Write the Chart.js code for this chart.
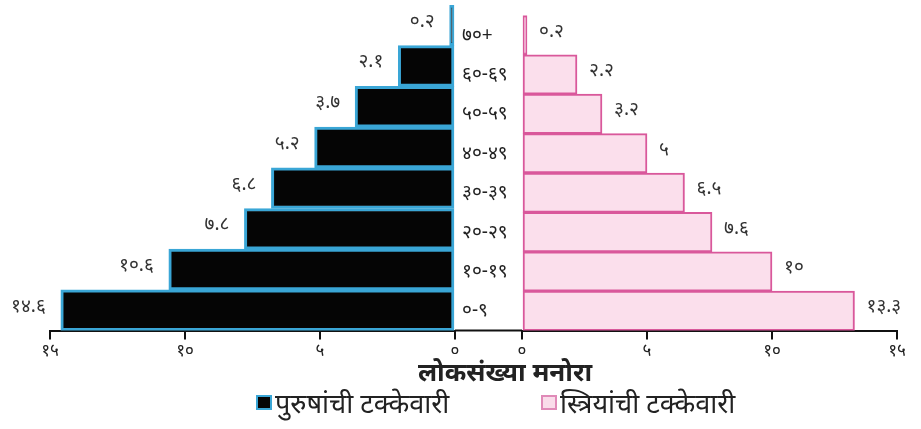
<!DOCTYPE html>
<html>
<head>
<meta charset="utf-8">
<script src="https://cdn.jsdelivr.net/npm/chart.js@4.4.1/dist/chart.umd.min.js"></script>
<style>
    body { margin: 0; background: #fff; width: 921px; height: 429px; overflow: hidden; position: relative; font-family: "Noto Sans", "DejaVu Sans", sans-serif; }
    #leftBox { position: absolute; left: 0; top: 0; width: 460px; height: 366px; }
    #rightBox { position: absolute; left: 455px; top: 0; width: 466px; height: 366px; }
    #title { position: absolute; left: 355px; top: 353px; width: 300px; text-align: center; font-size: 26px; font-weight: bold; color: #222; }
    .legend { position: absolute; top: 384px; font-size: 27px; color: #222; display: flex; align-items: center; }
    .legend span.box { display: inline-block; width: 12px; height: 11px; margin-right: 3px; }
</style>
</head>
<body>
<div id="leftBox"><canvas id="maleChart"></canvas></div>
<div id="rightBox"><canvas id="femaleChart"></canvas></div>
<div id="title">लोकसंख्या मनोरा</div>
<div class="legend" style="left:256px"><span class="box" style="background:#050505;border:2px solid #3aa6d6"></span>पुरुषांची टक्केवारी</div>
<div class="legend" style="left:541px"><span class="box" style="background:#fadcea;border:2px solid #e08ab8"></span>स्त्रियांची टक्केवारी</div>
<script>
const ageGroups = ["७०+", "६०-६९", "५०-५९", "४०-४९", "३०-३९", "२०-२९", "१०-१९", "०-९"];
const maleValues = [0.2, 2.1, 3.7, 5.2, 6.8, 7.8, 10.6, 14.6];
const femaleValues = [0.2, 2.2, 3.2, 5, 6.5, 7.6, 10, 13.3];
const axisTicks = [0, 5, 10, 15];

const devDigits = "०१२३४५६७८९";
function toDev(n) {
    return String(n).replace(/[0-9]/g, d => devDigits[d]);
}

const tickFont = { family: "Noto Sans, DejaVu Sans, sans-serif", size: 17 };

// writes the value next to the free end of every bar
const valueLabels = {
    id: "valueLabels",
    afterDatasetsDraw(chart, args, opts) {
        const ctx = chart.ctx;
        const meta = chart.getDatasetMeta(0);
        ctx.save();
        ctx.font = "19px Noto Sans, DejaVu Sans, sans-serif";
        ctx.fillStyle = "#333";
        ctx.textBaseline = "middle";
        ctx.textAlign = opts.side === "left" ? "right" : "left";
        meta.data.forEach((bar, i) => {
            const v = chart.data.datasets[0].data[i];
            const x = opts.side === "left" ? bar.x - 15 : bar.x + 12;
            ctx.fillText(toDev(v), x, bar.y - 4);
        });
        ctx.restore();
    }
};

// carries the base line across the gap between the two halves
const gapLine = {
    id: "gapLine",
    afterDraw(chart) {
        const ctx = chart.ctx;
        const y = chart.scales.x.top;
        ctx.save();
        ctx.strokeStyle = "#111";
        ctx.lineWidth = 2;
        ctx.beginPath();
        ctx.moveTo(0, y);
        ctx.lineTo(chart.chartArea.left, y);
        ctx.stroke();
        ctx.restore();
    }
};

function xScale(reverse) {
    return {
        reverse: reverse,
        min: 0,
        max: 15,
        afterBuildTicks: (scale) => { scale.ticks = axisTicks.map(v => ({ value: v })); },
        ticks: { callback: v => toDev(v), font: tickFont, color: "#222", maxRotation: 0, padding: 1 },
        grid: { display: true, drawOnChartArea: false, drawTicks: true, tickLength: 9, color: "#111", lineWidth: 2 },
        border: { display: true, color: "#111", width: 2 }
    };
}

new Chart(document.getElementById("maleChart"), {
    type: "bar",
    data: {
        labels: ageGroups,
        datasets: [{
            label: "पुरुषांची टक्केवारी",
            data: maleValues,
            backgroundColor: "#050505",
            borderColor: "#3aa6d6",
            borderWidth: 3,
            borderSkipped: false,
            categoryPercentage: 1,
            barPercentage: 1
        }]
    },
    options: {
        indexAxis: "y",
        responsive: true,
        maintainAspectRatio: false,
        animation: false,
        layout: { padding: { left: 50, right: 5, top: 5, bottom: 4 } },
        plugins: { legend: { display: false }, tooltip: { enabled: false }, valueLabels: { side: "left" } },
        scales: {
            x: xScale(true),
            y: { display: false }
        }
    },
    plugins: [valueLabels]
});

new Chart(document.getElementById("femaleChart"), {
    type: "bar",
    data: {
        labels: ageGroups,
        datasets: [{
            label: "स्त्रियांची टक्केवारी",
            data: femaleValues,
            backgroundColor: "#fbdfec",
            borderColor: "#d9589b",
            borderWidth: 2,
            borderSkipped: false,
            categoryPercentage: 1,
            barPercentage: 1
        }]
    },
    options: {
        indexAxis: "y",
        responsive: true,
        maintainAspectRatio: false,
        animation: false,
        layout: { padding: { left: 7, right: 24, top: 5, bottom: 4 } },
        plugins: { legend: { display: false }, tooltip: { enabled: false }, valueLabels: { side: "right" } },
        scales: {
            x: xScale(false),
            y: {
                position: "left",
                afterFit: (scale) => { scale.width = 60; },
                grid: { display: false },
                border: { display: false },
                ticks: { font: { family: "Noto Sans, DejaVu Sans, sans-serif", size: 19 }, color: "#222", crossAlign: "far", padding: 4 }
            }
        }
    },
    plugins: [valueLabels, gapLine]
});
</script>
</body>
</html>
